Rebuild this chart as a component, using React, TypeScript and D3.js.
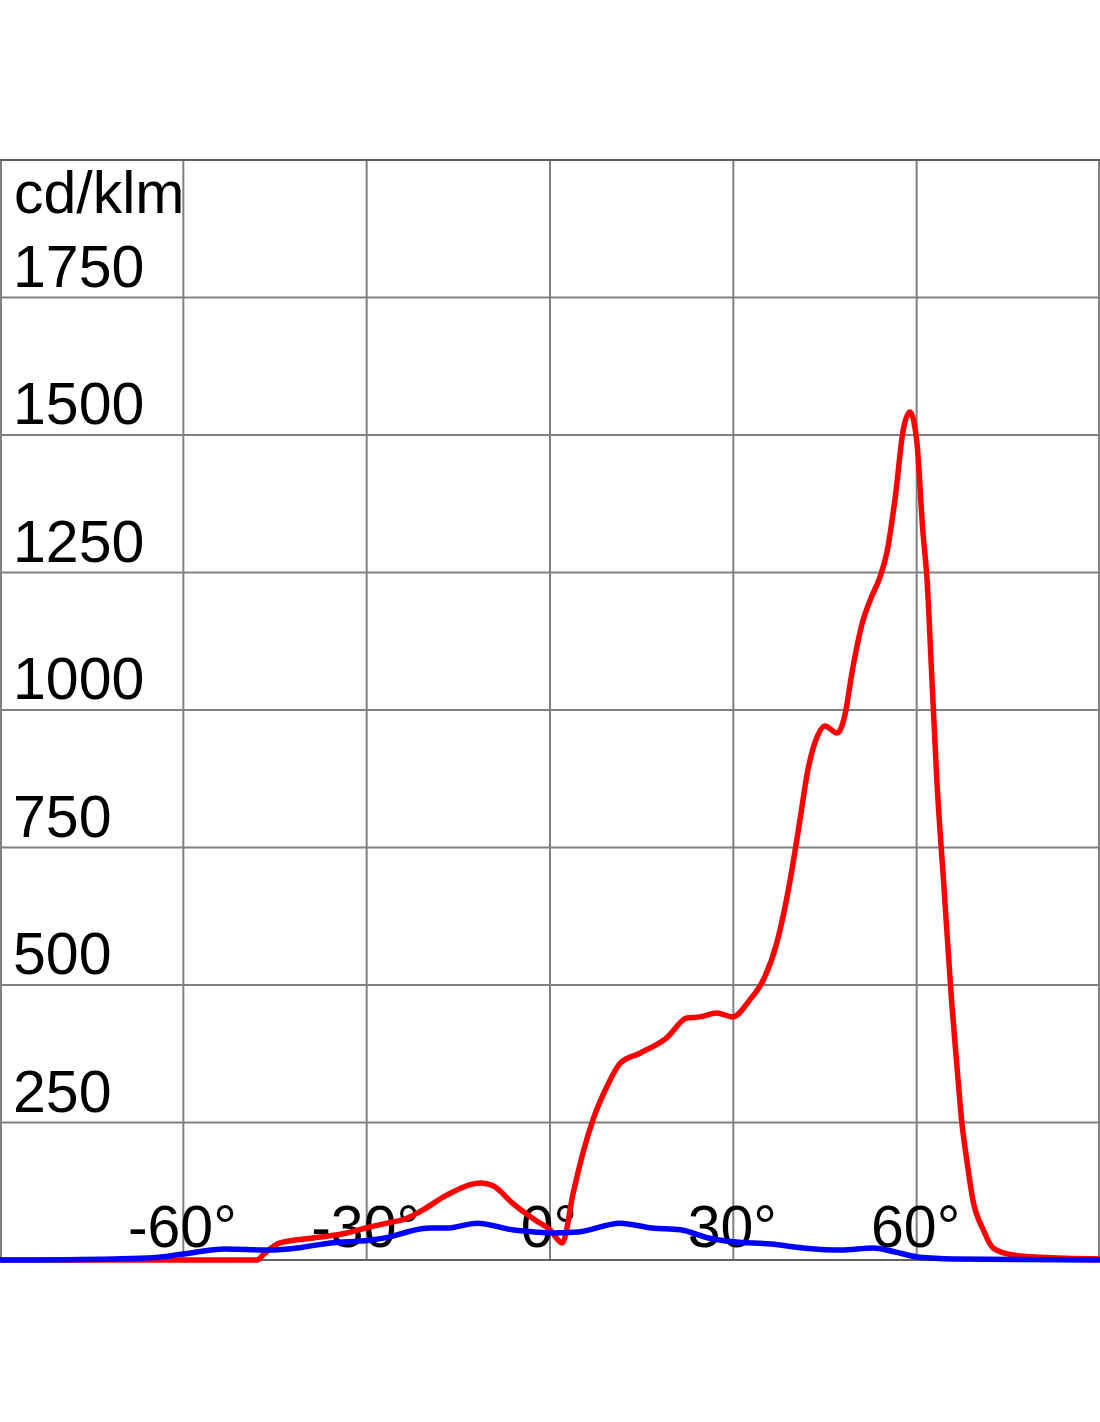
import * as d3 from "d3";

// luminous intensity distribution, cd/klm
const redAngles = [-90, -47.9, -47, -44.2, -38.8, -33.2, -29.5, -26.7, -23.4, -20.8, -16.9, -11.3, -9.3, -6.2, -2.5, 0, 2, 3.8, 5.4, 7, 9.3, 11.5, 14.7, 19.1, 22.4, 24.5, 27.3, 29.9, 32.7, 34.9, 37.1, 39.3, 40.9, 42.2, 43.7, 45, 47, 48.3, 49.4, 51.1, 52.4, 54, 55.1, 56.5, 57.8, 58.9, 60, 61, 61.7, 62.5, 63.3, 64.5, 65.7, 66.6, 67.4, 68.2, 69.2, 70.9, 72.5, 75.8, 80.2, 90];
const redValues = [0, 0, 9, 31, 40, 49, 60, 67, 76, 91, 118, 140, 135, 104, 73, 55, 31, 122, 195, 254, 315, 358, 376, 404, 440, 442, 449, 442, 473, 509, 576, 691, 800, 891, 951, 971, 958, 993, 1067, 1158, 1200, 1242, 1285, 1387, 1509, 1542, 1491, 1327, 1236, 1055, 873, 673, 473, 351, 249, 182, 109, 55, 22, 9, 5, 2];

const blueAngles = [-90, -71.2, -65, -60, -53.2, -45.8, -41.2, -36, -29.5, -26.2, -23.4, -19.6, -16.9, -11.9, -6.2, -2.5, 0, 4.6, 11.5, 16.7, 21.3, 25.9, 29.9, 36.2, 41.4, 47.6, 52.9, 56.3, 60.4, 66.1, 90];
const blueValues = [0, 2, 4, 11, 20, 18, 22, 31, 36, 42, 51, 58, 58, 67, 55, 51, 49, 51, 67, 58, 55, 40, 33, 29, 22, 18, 22, 15, 5, 2, 0];

const xTicks = [-60, -30, 0, 30, 60];
const yTicks = [250, 500, 750, 1000, 1250, 1500, 1750];
const unitLabel = "cd/klm";

const W = 1100;
const H = 1422;
const TOP = 160;
const BOTTOM = 1260;
const FONT = "Liberation Sans, Arial, sans-serif";
const GRID = "#808080";

export default function App() {
  const x = d3.scaleLinear().domain([-90, 90]).range([0, W]);
  const y = d3.scaleLinear().domain([0, 2000]).range([BOTTOM, TOP]);

  const line = d3
    .line<[number, number]>()
    .x((d) => x(d[0]))
    .y((d) => y(d[1]))
    .curve(d3.curveMonotoneX);

  const redPath = line(redAngles.map((a, i) => [a, redValues[i]]));
  const bluePath = line(blueAngles.map((a, i) => [a, blueValues[i]]));

  return (
    <svg
      width={W}
      height={H}
      style={{ position: "absolute", left: 0, top: 0, background: "#fff" }}
    >
      {/* grid */}
      {yTicks.map((v) => (
        <line key={v} x1={0} x2={W} y1={y(v)} y2={y(v)} stroke={GRID} strokeWidth={2} />
      ))}
      {xTicks.map((v) => (
        <line key={v} x1={x(v)} x2={x(v)} y1={TOP} y2={BOTTOM} stroke={GRID} strokeWidth={2} />
      ))}
      <line x1={1} x2={1} y1={TOP} y2={BOTTOM} stroke={GRID} strokeWidth={2} />
      <line x1={W - 1} x2={W - 1} y1={TOP} y2={BOTTOM} stroke={GRID} strokeWidth={2} />
      <line x1={0} x2={W} y1={TOP} y2={TOP} stroke="#606060" strokeWidth={2} />
      <line x1={0} x2={W} y1={BOTTOM} y2={BOTTOM} stroke="#606060" strokeWidth={2} />

      {/* labels */}
      <text x={14} y={213} fontFamily={FONT} fontSize={59} fill="#000">
        {unitLabel}
      </text>
      {yTicks.map((v) => (
        <text key={v} x={13} y={y(v) - 11} fontFamily={FONT} fontSize={59} fill="#000">
          {v}
        </text>
      ))}
      {xTicks.map((v) => (
        <text
          key={v}
          x={x(v) - 1}
          y={1247}
          textAnchor="middle"
          fontFamily={FONT}
          fontSize={59}
          fill="#000"
        >
          {v + "°"}
        </text>
      ))}

      {/* curves */}
      <path d={redPath ?? ""} fill="none" stroke="#ff0000" strokeWidth={5.5} strokeLinejoin="round" />
      <path d={bluePath ?? ""} fill="none" stroke="#0000ff" strokeWidth={5.5} strokeLinejoin="round" />
    </svg>
  );
}
